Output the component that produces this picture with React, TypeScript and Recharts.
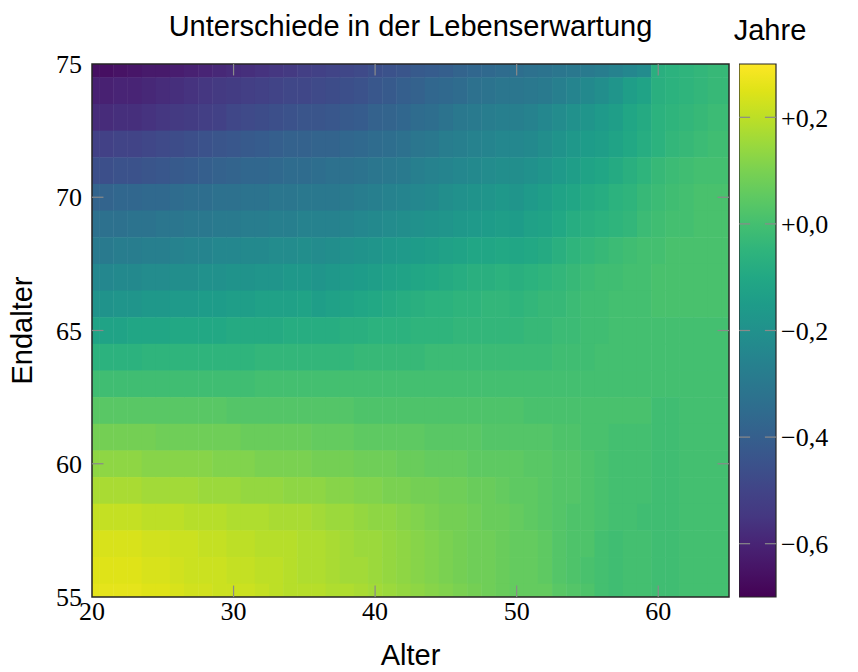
import React from 'react'
import { ScatterChart, Scatter, XAxis, YAxis, ReferenceLine, ReferenceArea, ComposedChart, Label } from 'recharts'

// Alter (Spalten) und Endalter (Zeilen)
const alter = [20, 21, 22, 23, 24, 25, 26, 27, 28, 29, 30, 31, 32, 33, 34, 35, 36, 37, 38, 39, 40, 41, 42, 43, 44, 45, 46, 47, 48, 49, 50, 51, 52, 53, 54, 55, 56, 57, 58, 59, 60, 61, 62, 63, 64, 65]
const endalter = [75, 74, 73, 72, 71, 70, 69, 68, 67, 66, 65, 64, 63, 62, 61, 60, 59, 58, 57, 56, 55]

// Unterschiede in Hundertstel Jahren, Alter 20..65
const end75 = [-66, -66, -65, -64, -63, -63, -62, -61, -60, -59, -58, -57, -56, -55, -54, -52, -51, -50, -49, -48, -46, -45, -44, -42, -41, -40, -38, -37, -36, -35, -34, -33, -32, -31, -30, -29, -28, -26, -24, -22, -7, -6, -5, -4, -3, -3]
const end74 = [-61, -61, -60, -60, -59, -58, -57, -56, -55, -54, -53, -52, -51, -50, -49, -49, -48, -47, -46, -45, -43, -42, -40, -39, -37, -36, -35, -33, -32, -31, -31, -30, -29, -27, -25, -23, -21, -18, -14, -12, -7, -6, -5, -4, -3, -3]
const end73 = [-58, -58, -57, -57, -56, -55, -54, -53, -52, -51, -49, -48, -47, -46, -45, -44, -44, -43, -42, -41, -39, -38, -37, -35, -34, -32, -30, -29, -28, -27, -27, -26, -24, -22, -20, -18, -16, -14, -11, -9, -6, -5, -4, -3, -2, -2]
const end72 = [-51, -51, -50, -50, -49, -48, -47, -46, -45, -44, -43, -42, -41, -40, -39, -39, -38, -38, -37, -36, -35, -34, -33, -31, -30, -28, -27, -26, -25, -24, -24, -23, -21, -19, -17, -15, -14, -12, -10, -8, -6, -4, -3, -2, -1, -1]
const end71 = [-46, -46, -45, -45, -44, -43, -42, -41, -40, -39, -38, -37, -37, -36, -35, -35, -34, -33, -33, -32, -31, -30, -29, -27, -26, -25, -24, -23, -22, -21, -21, -20, -18, -16, -14, -12, -11, -9, -7, -5, -3, -2, -1, 0, 0, 0]
const end70 = [-38, -38, -37, -37, -36, -36, -35, -34, -34, -33, -33, -32, -32, -31, -31, -30, -30, -30, -29, -28, -27, -26, -25, -24, -23, -21, -20, -19, -18, -17, -18, -16, -14, -12, -11, -9, -8, -6, -5, -3, -2, -1, 0, 1, 1, 1]
const end69 = [-33, -33, -33, -32, -32, -31, -31, -30, -30, -29, -29, -28, -28, -27, -27, -26, -26, -26, -25, -24, -23, -22, -21, -20, -19, -18, -17, -16, -15, -14, -15, -13, -12, -10, -8, -7, -6, -5, -4, -2, -1, 0, 0, 1, 1, 1]
const end68 = [-29, -29, -28, -28, -27, -27, -26, -25, -25, -24, -24, -23, -23, -22, -22, -21, -22, -21, -20, -19, -18, -17, -16, -15, -14, -13, -12, -11, -11, -10, -11, -10, -9, -7, -5, -4, -3, -2, -1, 0, 0, 1, 1, 1, 1, 1]
const end67 = [-24, -24, -23, -23, -22, -22, -21, -21, -20, -20, -19, -19, -18, -18, -17, -17, -18, -17, -16, -15, -14, -13, -12, -11, -10, -9, -8, -7, -7, -6, -7, -6, -5, -4, -3, -2, -1, -1, 0, 0, 1, 1, 1, 1, 1, 1]
const end66 = [-19, -19, -18, -18, -17, -17, -16, -16, -15, -15, -14, -14, -13, -13, -13, -12, -14, -13, -12, -11, -10, -9, -8, -7, -6, -6, -5, -5, -4, -4, -5, -4, -3, -3, -2, -1, -1, 0, 0, 0, 1, 1, 1, 1, 1, 1]
const end65 = [-12, -12, -12, -11, -11, -11, -10, -10, -10, -10, -9, -9, -9, -9, -8, -8, -8, -8, -7, -7, -6, -6, -6, -5, -5, -5, -4, -4, -4, -4, -4, -3, -3, -2, -2, -1, -1, 0, 0, 0, 0, 0, 0, 0, 0, 0]
const end64 = [-6, -6, -6, -6, -5, -5, -5, -5, -5, -5, -5, -5, -4, -4, -4, -4, -4, -4, -4, -3, -3, -3, -3, -3, -2, -2, -2, -2, -2, -2, -2, -2, -2, -1, -1, -1, 0, 0, 0, 0, 0, 0, 0, 0, 0, 0]
const end63 = [-1, -1, -1, -1, -1, -1, -1, -1, -1, -1, -1, -1, 0, 0, 0, 0, 0, 0, 0, 0, 0, 0, 0, 0, 0, 0, 0, 0, 0, 0, 0, 0, 0, 0, 0, 0, 0, 0, 0, 0, 0, 0, 0, 0, 0, 0]
const end62 = [4, 4, 4, 4, 4, 4, 4, 4, 4, 4, 3, 3, 3, 3, 3, 3, 3, 3, 3, 2, 2, 2, 2, 2, 2, 2, 2, 2, 2, 2, 2, 1, 1, 1, 1, 1, 1, 1, 1, 1, -1, -1, 0, 0, 0, 0]
const end61 = [9, 9, 9, 9, 9, 8, 8, 8, 8, 8, 8, 7, 7, 7, 7, 7, 6, 6, 6, 5, 5, 5, 5, 5, 4, 4, 4, 4, 3, 3, 3, 3, 3, 2, 2, 1, 1, 0, 0, 0, -1, -1, 0, 0, 0, 0]
const end60 = [13, 13, 13, 13, 12, 12, 12, 12, 12, 11, 11, 11, 10, 10, 10, 10, 9, 9, 9, 8, 8, 8, 7, 7, 6, 6, 6, 5, 5, 5, 5, 4, 4, 3, 3, 2, 1, 0, 0, 0, -1, -1, 0, 0, 0, 0]
const end59 = [17, 17, 17, 17, 16, 16, 16, 16, 15, 15, 15, 14, 14, 14, 13, 13, 13, 12, 12, 11, 11, 10, 10, 9, 9, 8, 8, 7, 7, 6, 5, 5, 4, 3, 3, 2, 1, 0, 0, 0, -1, -1, 0, 0, 0, 0]
const end58 = [21, 21, 21, 21, 20, 20, 20, 19, 19, 19, 18, 18, 18, 17, 17, 17, 16, 15, 15, 14, 13, 13, 12, 11, 10, 9, 9, 8, 7, 7, 6, 5, 4, 3, 2, 2, 1, 0, 0, -1, -1, -1, 0, 0, 0, 0]
const end57 = [24, 24, 24, 24, 23, 23, 22, 22, 21, 21, 20, 20, 19, 19, 19, 18, 18, 17, 16, 15, 15, 14, 13, 12, 11, 10, 9, 8, 8, 7, 6, 6, 5, 3, 2, 2, 0, -1, 0, 0, -1, -1, 0, 0, 0, 0]
const end56 = [25, 25, 25, 25, 24, 24, 23, 22, 22, 22, 21, 21, 20, 20, 19, 18, 18, 17, 16, 16, 15, 14, 13, 12, 11, 10, 9, 8, 8, 7, 6, 6, 5, 3, 2, 1, 0, -1, 0, 0, -1, -1, 0, 0, 0, 0]
const end55 = [26, 26, 26, 26, 25, 25, 24, 23, 23, 22, 22, 22, 21, 20, 19, 19, 19, 18, 18, 17, 16, 15, 14, 13, 12, 11, 10, 9, 8, 7, 6, 6, 6, 4, 3, 2, 0, -1, 0, 0, -1, -1, 0, 0, 0, 0]

const zeilen = [end75, end74, end73, end72, end71, end70, end69, end68, end67, end66, end65, end64, end63, end62, end61, end60, end59, end58, end57, end56, end55]

const xTicks = [20, 30, 40, 50, 60]
const yTicks = [55, 60, 65, 70, 75]
const cbTicks = [0.2, 0, -0.2, -0.4, -0.6]

const viridis = ['#440154', '#471365', '#482475', '#453781', '#414487', '#3b528b', '#355f8d', '#2f6c8e', '#2a788e', '#25848e', '#21918c', '#1e9c89', '#22a884', '#2fb47c', '#44bf70', '#5ec962', '#7ad151', '#9bd93c', '#bddf26', '#dfe318', '#fde725']

const SERIF = '"Liberation Serif", serif'
const SANS = '"Liberation Sans", Arial, sans-serif'
const V_MIN = -0.7
const V_MAX = 0.3

const hexRgb = (h: string) => [1, 3, 5].map((i) => parseInt(h.slice(i, i + 2), 16))

function farbe(v: number) {
  const t = Math.min(1, Math.max(0, (v - V_MIN) / (V_MAX - V_MIN)))
  const pos = t * (viridis.length - 1)
  const i = Math.min(viridis.length - 2, Math.floor(pos))
  const f = pos - i
  const a = hexRgb(viridis[i])
  const b = hexRgb(viridis[i + 1])
  const c = a.map((x, k) => Math.round(x + (b[k] - x) * f))
  return `rgb(${c[0]},${c[1]},${c[2]})`
}

const zellen = zeilen.flatMap((zeile, i) =>
  zeile.map((w, j) => ({ alter: alter[j], endalter: endalter[i], wert: w / 100 }))
)

const PLOT_W = 637
const PLOT_H = 533
const CELL_W = PLOT_W / (alter.length - 1)
const CELL_H = PLOT_H / (endalter.length - 1)
const MARGIN = { top: 64, right: 129, bottom: 0, left: 0 }

const Zelle = (props: any) => {
  const { cx, cy, payload } = props
  let x0 = cx - CELL_W / 2
  let x1 = cx + CELL_W / 2 + 0.5
  let y0 = cy - CELL_H / 2
  let y1 = cy + CELL_H / 2 + 0.5
  if (payload.alter === alter[0]) x0 = cx
  if (payload.alter === alter[alter.length - 1]) x1 = cx
  if (payload.endalter === endalter[0]) y0 = cy
  if (payload.endalter === endalter[endalter.length - 1]) y1 = cy
  return <rect x={x0} y={y0} width={x1 - x0} height={y1 - y0} fill={farbe(payload.wert)} />
}

const fmtCb = (v: number) => (v < 0 ? '\u2212' : '+') + Math.abs(v).toFixed(1).replace('.', ',')

const tickStyle = { fontFamily: SERIF, fontSize: 26, fill: '#000' }
const TICK = '#8a8a8a'

export default function App() {
  return (
    <div style={{ position: 'absolute', left: 0, top: 0, width: 858, height: 672, background: '#fff' }}>
      <div style={{ position: 'absolute', left: 92, width: 637, top: 12, textAlign: 'center', fontFamily: SANS, fontSize: 29, lineHeight: '29px', whiteSpace: 'nowrap' }}>
        Unterschiede in der Lebenserwartung
      </div>
      <div style={{ position: 'absolute', left: 720, width: 100, top: 16, textAlign: 'center', fontFamily: SANS, fontSize: 29, lineHeight: '29px' }}>
        Jahre
      </div>

      {/* Heatmap */}
      <div style={{ position: 'absolute', left: 0, top: 0 }}>
        <ScatterChart width={858} height={672} margin={MARGIN}>
          <XAxis type="number" dataKey="alter" domain={[20, 65]} ticks={xTicks} interval={0} allowDataOverflow
            tickLine={false} axisLine={false} tickSize={0} tickMargin={5} height={75} tick={tickStyle}>
            <Label value="Alter" position="insideBottom" offset={7} style={{ fontFamily: SANS, fontSize: 29, fill: '#000' }} />
          </XAxis>
          <YAxis type="number" dataKey="endalter" domain={[55, 75]} ticks={yTicks} interval={0} allowDataOverflow
            tickLine={false} axisLine={false} tickSize={0} tickMargin={10} width={92} tick={tickStyle}
            label={{
              content: (p: any) => {
                const vb = p.viewBox
                const cx = 22
                const cy = vb.y + vb.height / 2
                return (
                  <text x={cx} y={cy} transform={`rotate(-90, ${cx}, ${cy})`} textAnchor="middle" dy="0.36em"
                    style={{ fontFamily: SANS, fontSize: 29, fill: '#000' }}>Endalter</text>
                )
              },
            }}
          />
          <Scatter data={zellen} shape={Zelle} isAnimationActive={false} />
        </ScatterChart>
      </div>

      {/* Rahmen und Teilstriche ueber der Heatmap */}
      <div style={{ position: 'absolute', left: 0, top: 0, pointerEvents: 'none' }}>
        <ComposedChart width={858} height={672} data={[{ alter: 20, endalter: 55 }]}
          margin={{ top: 64, right: 129, bottom: 75, left: 92 }}>
          <XAxis type="number" dataKey="alter" domain={[20, 65]} hide allowDataOverflow />
          <YAxis type="number" dataKey="endalter" domain={[55, 75]} hide allowDataOverflow />
          {xTicks.slice(1).map((t) => (
            <ReferenceLine key={'xb' + t} segment={[{ x: t, y: 55 }, { x: t, y: 55.43 }]} stroke={TICK} strokeWidth={1.2} />
          ))}
          {xTicks.slice(1).map((t) => (
            <ReferenceLine key={'xt' + t} segment={[{ x: t, y: 75 }, { x: t, y: 74.57 }]} stroke={TICK} strokeWidth={1.2} />
          ))}
          {yTicks.slice(1, -1).map((t) => (
            <ReferenceLine key={'yl' + t} segment={[{ x: 20, y: t }, { x: 20.81, y: t }]} stroke={TICK} strokeWidth={1.2} />
          ))}
          {yTicks.slice(1, -1).map((t) => (
            <ReferenceLine key={'yr' + t} segment={[{ x: 65, y: t }, { x: 64.19, y: t }]} stroke={TICK} strokeWidth={1.2} />
          ))}
          <ReferenceArea x1={20} x2={65} y1={55} y2={75} fill="none" fillOpacity={0} stroke="#262626" strokeWidth={1.5} />
        </ComposedChart>
      </div>

      {/* Farbskala */}
      <div style={{ position: 'absolute', left: 739, top: 0 }}>
        <ComposedChart width={119} height={672} data={[{ x: 0 }, { x: 1 }]} margin={{ top: 64, right: 0, bottom: 75, left: 0 }}>
          <defs>
            <linearGradient id="cbVerlauf" x1="0" y1="1" x2="0" y2="0">
              {viridis.map((c, i) => (
                <stop key={c} offset={i / (viridis.length - 1)} stopColor={c} />
              ))}
            </linearGradient>
          </defs>
          <XAxis type="number" dataKey="x" domain={[0, 1]} hide allowDataOverflow />
          <YAxis type="number" orientation="right" domain={[V_MIN, V_MAX]} ticks={cbTicks} interval={0} allowDataOverflow
            tickLine={false} axisLine={false} tickSize={0} tickMargin={5} width={82} tick={tickStyle} tickFormatter={fmtCb} />
          <ReferenceArea x1={0} x2={1} y1={V_MIN} y2={V_MAX} fill="url(#cbVerlauf)" fillOpacity={1} stroke="#262626" strokeWidth={1.2} />
          {cbTicks.map((t) => (
            <ReferenceLine key={'cl' + t} segment={[{ x: 0, y: t }, { x: 0.3, y: t }]} stroke={TICK} strokeWidth={1.2} />
          ))}
          {cbTicks.map((t) => (
            <ReferenceLine key={'cr' + t} segment={[{ x: 0.7, y: t }, { x: 1, y: t }]} stroke={TICK} strokeWidth={1.2} />
          ))}
        </ComposedChart>
      </div>
    </div>
  )
}
